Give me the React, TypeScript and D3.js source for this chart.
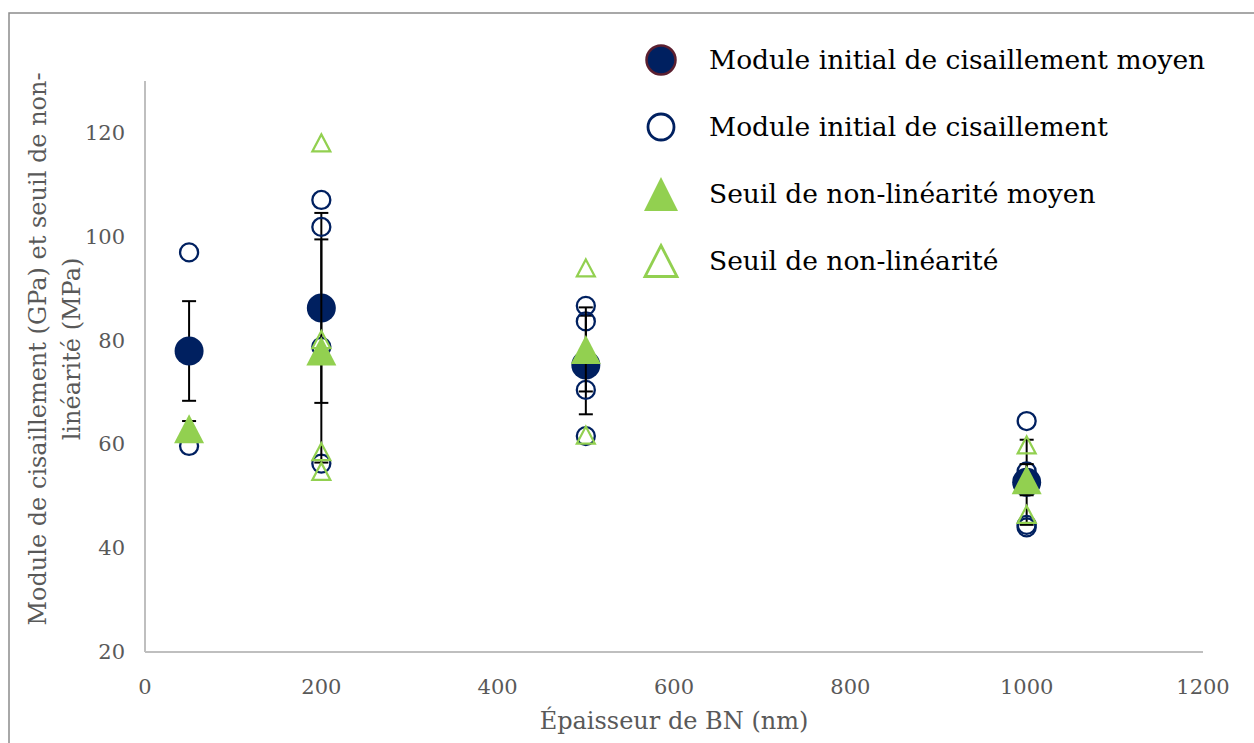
import { scaleLinear } from "d3";

// épaisseur de BN (nm)
const categories = [50, 200, 500, 1000];
// moyennes + écarts
const moduleMean = [78, 86.3, 75.3, 52.7];
const moduleErr = [9.6, 18.3, 9.5, 8.2];
const seuilMean = [63, 78, 78.3, 53.2];
const seuilErr = [1.5, 21.5, 8.1, 3];
// points individuels
const moduleX = [50, 50, 200, 200, 200, 200, 500, 500, 500, 500, 1000, 1000, 1000, 1000];
const moduleY = [97, 59.7, 107.1, 101.9, 78.8, 56.3, 86.7, 83.7, 70.5, 61.6, 64.5, 54.8, 44.5, 44];
const seuilX = [200, 200, 200, 200, 500, 500, 1000, 1000];
const seuilY = [118.1, 80.2, 58.6, 54.8, 94, 61.8, 59.9, 46.5];

const xTicks = [0, 200, 400, 600, 800, 1000, 1200];
const yTicks = [20, 40, 60, 80, 100, 120];
const legendLabels = [
  "Module initial de cisaillement moyen",
  "Module initial de cisaillement",
  "Seuil de non-linéarité moyen",
  "Seuil de non-linéarité",
];

const W = 1254;
const H = 743;
const NAVY = "#002060";
const GREEN = "#92D050";
const FONT = "'DejaVu Serif', serif";

const tri = (cx: number, cy: number, w: number, h: number) =>
  `M${cx},${cy - h / 2}L${cx + w / 2},${cy + h / 2}L${cx - w / 2},${cy + h / 2}Z`;

const ErrBar = ({ x, y0, y1 }: { x: number; y0: number; y1: number }) => (
  <g stroke="#000" strokeWidth={2}>
    <line x1={x} x2={x} y1={y0} y2={y1} />
    <line x1={x - 7} x2={x + 7} y1={y0} y2={y0} />
    <line x1={x - 7} x2={x + 7} y1={y1} y2={y1} />
  </g>
);

const App = () => {
  const x = scaleLinear([0, 1200], [145, 1203]);
  const y = scaleLinear([20, 120], [652, 133]);

  return (
    <svg width={W} height={H} style={{ position: "absolute", left: 0, top: 0 }}>
      <rect x={0} y={0} width={W} height={H} fill="#fff" />
      {/* cadre */}
      <rect x={9} y={13} width={W} height={H} fill="none" stroke="#8c8c8c" strokeWidth={1.5} />

      {/* axes */}
      <line x1={x(0)} x2={x(0)} y1={y(130)} y2={y(20)} stroke="#bfbfbf" strokeWidth={2} />
      <line x1={x(0)} x2={x(1200)} y1={y(20)} y2={y(20)} stroke="#bfbfbf" strokeWidth={2} />

      {yTicks.map((t) => (
        <text key={t} x={125} y={y(t) + 7} textAnchor="end" fontFamily={FONT} fontSize={21} fill="#595959">
          {t}
        </text>
      ))}
      {xTicks.map((t) => (
        <text key={t} x={x(t)} y={694} textAnchor="middle" fontFamily={FONT} fontSize={21} fill="#595959">
          {t}
        </text>
      ))}

      <text x={674} y={729} textAnchor="middle" fontFamily={FONT} fontSize={24} fill="#595959">
        Épaisseur de BN (nm)
      </text>
      <g transform="translate(46,349) rotate(-90)" fontFamily={FONT} fontSize={24} fill="#595959" textAnchor="middle">
        <text x={0} y={0}>Module de cisaillement (GPa) et seuil de non-</text>
        <text x={0} y={34}>linéarité (MPa)</text>
      </g>

      {/* série 1 : module moyen */}
      {categories.map((c, i) => (
        <ErrBar key={"em" + i} x={x(c)} y0={y(moduleMean[i] + moduleErr[i])} y1={y(moduleMean[i] - moduleErr[i])} />
      ))}
      {categories.map((c, i) => (
        <circle key={"m" + i} cx={x(c)} cy={y(moduleMean[i])} r={14.5} fill={NAVY} />
      ))}

      {/* série 2 : module */}
      {moduleX.map((c, i) => (
        <circle key={"mo" + i} cx={x(c)} cy={y(moduleY[i])} r={9} fill="none" stroke={NAVY} strokeWidth={2.3} />
      ))}

      {/* série 3 : seuil moyen */}
      {categories.map((c, i) => (
        <ErrBar key={"es" + i} x={x(c)} y0={y(seuilMean[i] + seuilErr[i])} y1={y(seuilMean[i] - seuilErr[i])} />
      ))}
      {categories.map((c, i) => (
        <path key={"s" + i} d={tri(x(c), y(seuilMean[i]), 30, 29)} fill={GREEN} />
      ))}

      {/* série 4 : seuil */}
      {seuilX.map((c, i) => (
        <path key={"so" + i} d={tri(x(c), y(seuilY[i]), 18, 17)} fill="none" stroke={GREEN} strokeWidth={2.2} />
      ))}

      {/* légende */}
      {legendLabels.map((l, i) => {
        const ly = 60 + i * 67;
        let marker;
        if (i === 0) marker = <circle cx={661} cy={ly} r={14.5} fill={NAVY} stroke="#5b1f30" strokeWidth={2.5} />;
        else if (i === 1) marker = <circle cx={661} cy={ly} r={13} fill="none" stroke={NAVY} strokeWidth={2.8} />;
        else if (i === 2) marker = <path d={tri(661, ly, 34, 34)} fill={GREEN} />;
        else marker = <path d={tri(661, ly, 32, 31)} fill="none" stroke={GREEN} strokeWidth={2.8} />;
        return (
          <g key={l}>
            {marker}
            <text x={709} y={ly + 9} fontFamily={FONT} fontSize={26.5} fill="#000">
              {l}
            </text>
          </g>
        );
      })}
    </svg>
  );
};

export default App;
